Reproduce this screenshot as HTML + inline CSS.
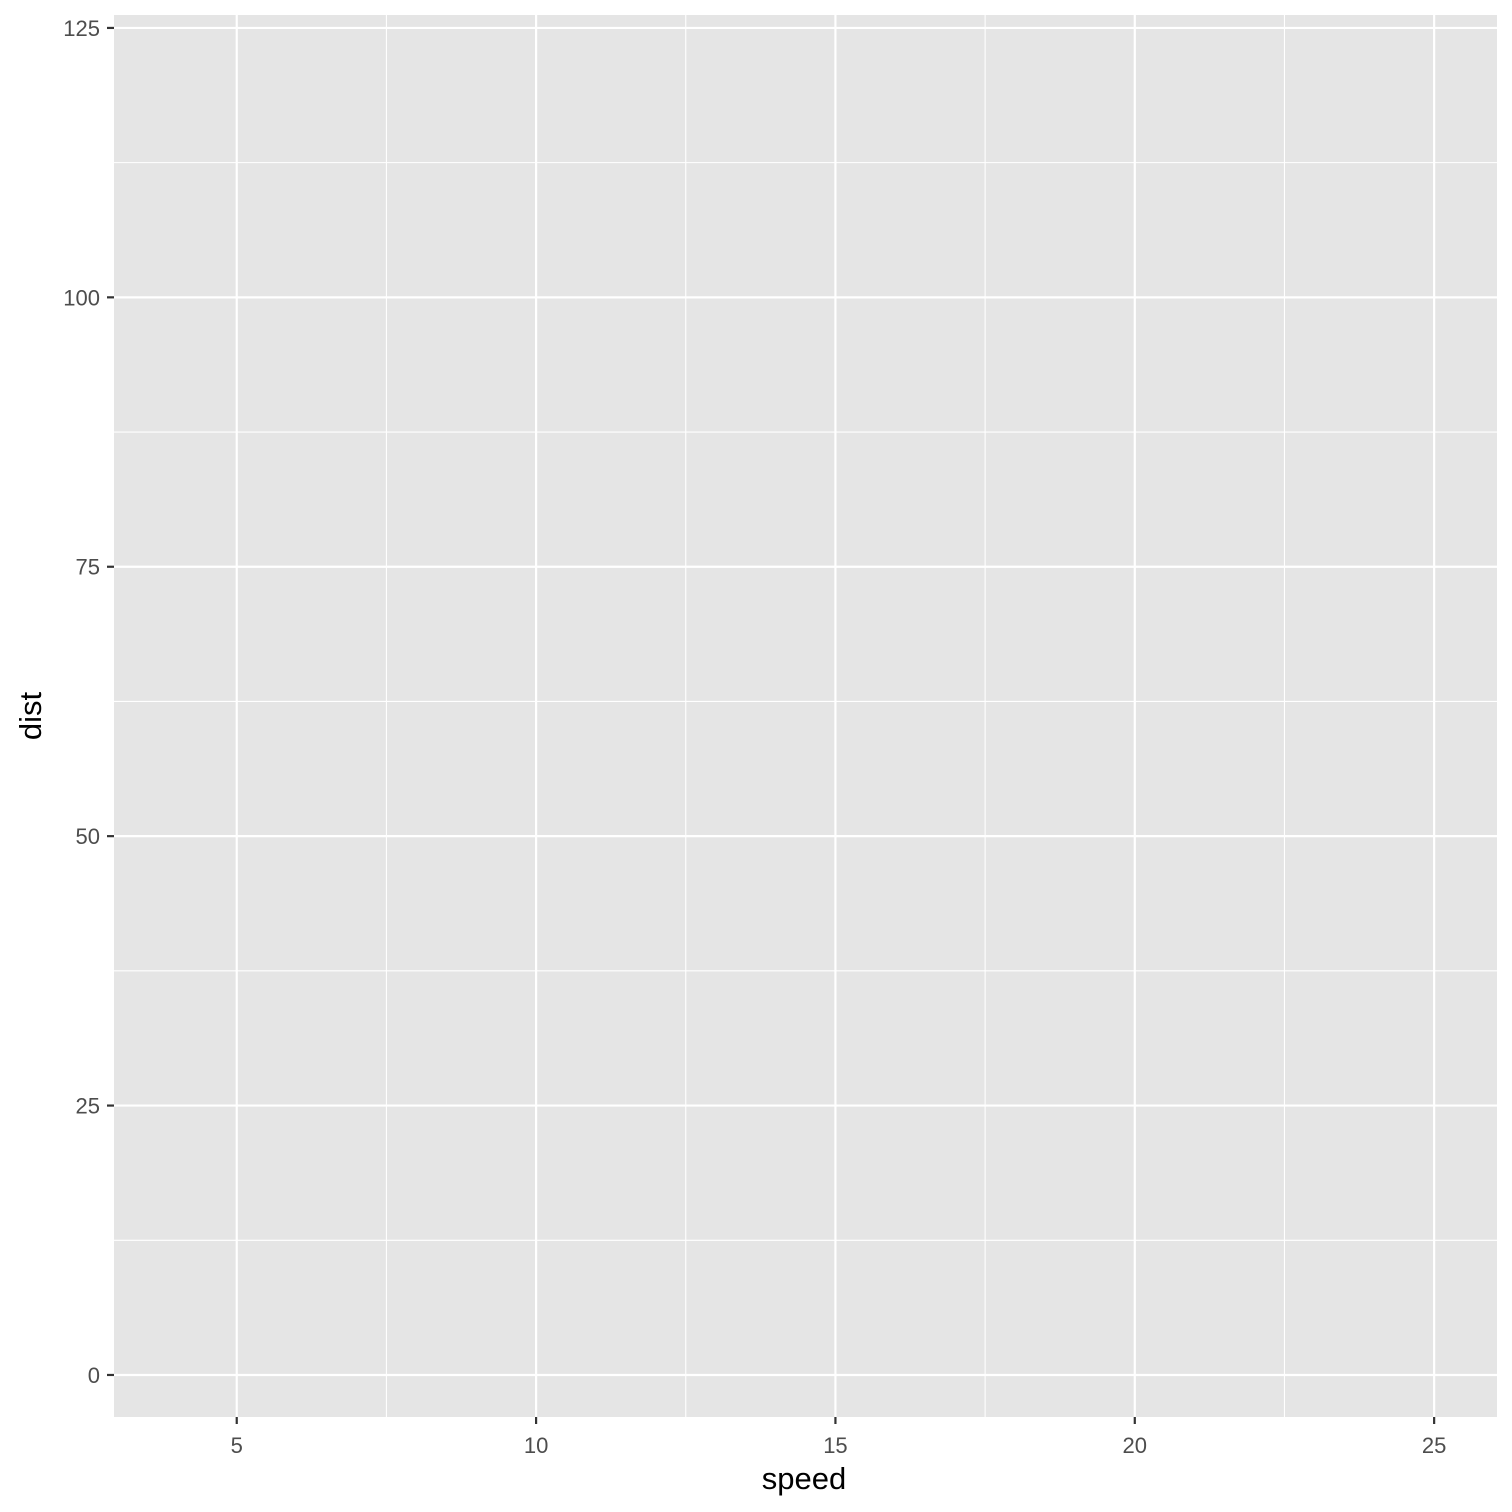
<!DOCTYPE html>
<html><head><meta charset="utf-8">
<style>
html,body{margin:0;padding:0;background:#fff;}
svg{display:block;font-family:"Liberation Sans",Arial,sans-serif;}
</style></head>
<body>
<svg id="chart" width="1512" height="1512" viewBox="0 0 1512 1512">
<rect id="panel" x="114" y="15" width="1383" height="1402" fill="#e5e5e5"/>
<g id="grid"></g>
<g id="axes"></g>
<text x="804" y="1489" font-size="31" text-anchor="middle" fill="#000">speed</text>
<text transform="translate(41,716) rotate(-90)" font-size="31" text-anchor="middle" fill="#000">dist</text>
</svg>
<script>
const xTicks = [5, 10, 15, 20, 25];
const xMinor = [7.5, 12.5, 17.5, 22.5];
const yTicks = [0, 25, 50, 75, 100, 125];
const yMinor = [12.5, 37.5, 62.5, 87.5, 112.5];
const xDomain = [2.95, 26.05];
const yDomain = [-3.9, 126.2];

const pl = 114, pr = 1497, pt = 15, pb = 1417;
function xs(v){ return pl + (v - xDomain[0]) / (xDomain[1] - xDomain[0]) * (pr - pl); }
function ys(v){ return pb - (v - yDomain[0]) / (yDomain[1] - yDomain[0]) * (pb - pt); }
const NS = "http://www.w3.org/2000/svg";
const grid = document.getElementById('grid');
const axes = document.getElementById('axes');
function line(parent, x1, y1, x2, y2, stroke, w){
  const l = document.createElementNS(NS, 'line');
  l.setAttribute('x1', x1); l.setAttribute('y1', y1);
  l.setAttribute('x2', x2); l.setAttribute('y2', y2);
  l.setAttribute('stroke', stroke); l.setAttribute('stroke-width', w);
  parent.appendChild(l);
  return l;
}
function text(parent, x, y, s, anchor){
  const t = document.createElementNS(NS, 'text');
  t.setAttribute('x', x); t.setAttribute('y', y);
  t.setAttribute('font-size', '22'); t.setAttribute('fill', '#4d4d4d');
  t.setAttribute('text-anchor', anchor);
  t.textContent = s;
  parent.appendChild(t);
  return t;
}
xMinor.forEach(v => {
  const l = line(grid, xs(v), pt, xs(v), pb, '#fff', 1.1);
  
  
});
yMinor.forEach(v => {
  const l = line(grid, pl, ys(v), pr, ys(v), '#fff', 1.1);
  
  
});
xTicks.forEach(v => {
  const g = line(grid, xs(v), pt, xs(v), pb, '#fff', 2.2);
  
  
  const tk = line(axes, xs(v), pb, xs(v), pb + 7, '#333', 2.2);
  
  
  const lb = text(axes, xs(v), 1453, String(v), 'middle');
  
  
});
yTicks.forEach(v => {
  const g = line(grid, pl, ys(v), pr, ys(v), '#fff', 2.2);
  
  
  const tk = line(axes, pl - 7, ys(v), pl, ys(v), '#333', 2.2);
  
  
  const lb = text(axes, pl - 14, ys(v) + 8, String(v), 'end');
  
  
});
</script>
</body></html>
